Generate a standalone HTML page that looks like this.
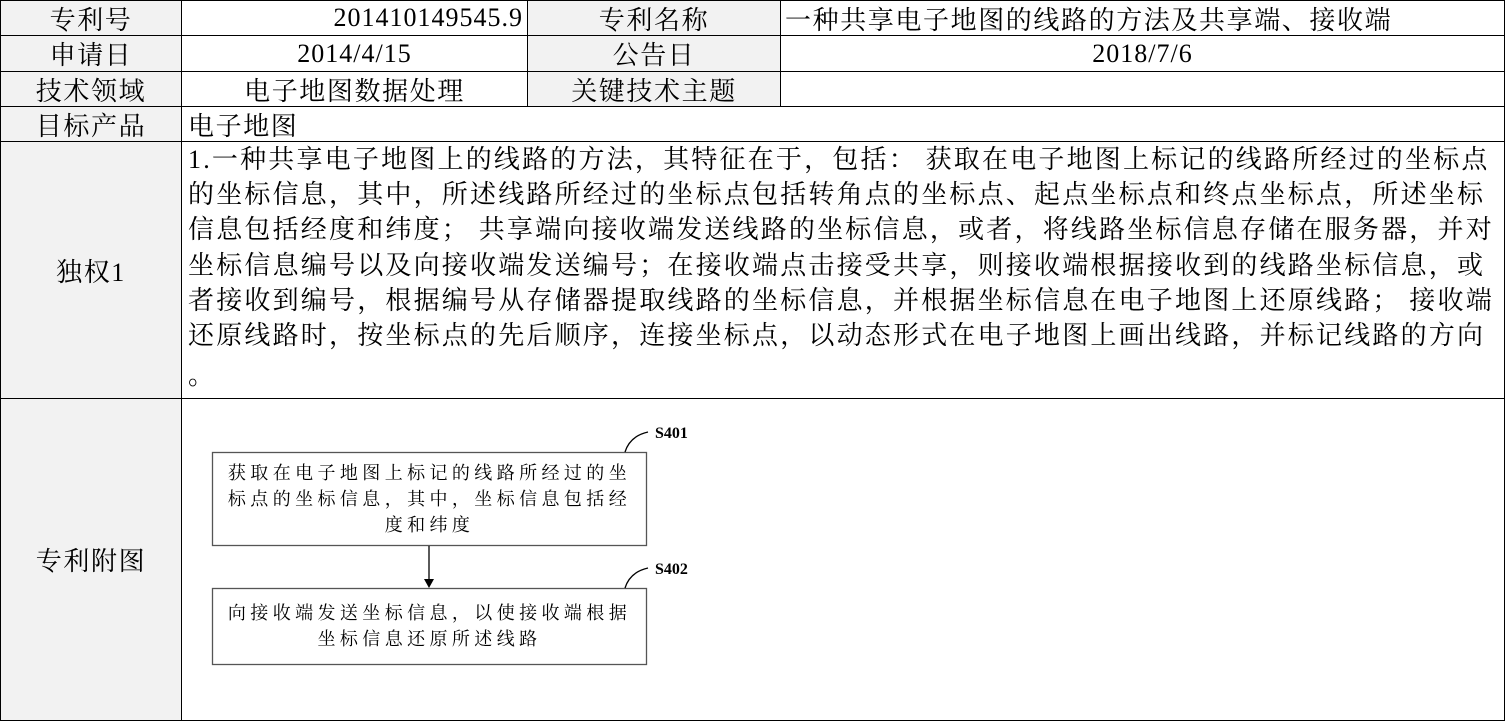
<!DOCTYPE html>
<html><head><meta charset="utf-8"><style>
body{margin:0;width:1505px;height:721px;background:#fff;position:relative;overflow:hidden;font-family:"Liberation Serif","Noto Serif CJK SC",serif;color:#000}
.c{position:absolute;box-sizing:border-box;border:1px solid #000;display:flex;align-items:center;justify-content:center;font-size:26px;letter-spacing:1.6px;white-space:nowrap}
.g{background:#f2f2f2}
.l{justify-content:flex-start;padding-left:6px}
.r{justify-content:flex-end;padding-right:4px}
.m{font-size:26px;letter-spacing:1px}
.t{position:absolute;left:188px;font-size:26px;letter-spacing:2.2px;white-space:nowrap;line-height:26px}
.b{position:absolute;font-size:18px;letter-spacing:4.4px;white-space:nowrap;text-align:center;line-height:26px}
</style></head><body>
<div class="c g" style="left:0;top:0;width:182px;height:36px">专利号</div>
<div class="c r m" style="left:181px;top:0;width:347px;height:36px">201410149545.9</div>
<div class="c g" style="left:527px;top:0;width:254px;height:36px">专利名称</div>
<div class="c l" style="left:780px;top:0;width:725px;height:36px;padding-left:4px">一种共享电子地图的线路的方法及共享端、接收端</div>
<div class="c g" style="left:0;top:35px;width:182px;height:37px">申请日</div>
<div class="c m" style="left:181px;top:35px;width:347px;height:37px">2014/4/15</div>
<div class="c g" style="left:527px;top:35px;width:254px;height:37px">公告日</div>
<div class="c m" style="left:780px;top:35px;width:725px;height:37px">2018/7/6</div>
<div class="c g" style="left:0;top:71px;width:182px;height:36px">技术领域</div>
<div class="c" style="left:181px;top:71px;width:347px;height:36px">电子地图数据处理</div>
<div class="c g" style="left:527px;top:71px;width:254px;height:36px">关键技术主题</div>
<div class="c" style="left:780px;top:71px;width:725px;height:36px"></div>
<div class="c g" style="left:0;top:106px;width:182px;height:36px">目标产品</div>
<div class="c l" style="left:181px;top:106px;width:1324px;height:36px">电子地图</div>
<div class="c g" style="left:0;top:141px;width:182px;height:258px">独权1</div>
<div class="c" style="left:181px;top:141px;width:1324px;height:258px"></div>
<div class="c g" style="left:0;top:398px;width:182px;height:323px">专利附图</div>
<div class="c" style="left:181px;top:398px;width:1324px;height:323px"></div>

<div class="t" style="top:147px">1.一种共享电子地图上的线路的方法，其特征在于，包括： 获取在电子地图上标记的线路所经过的坐标点</div>
<div class="t" style="top:182px">的坐标信息，其中，所述线路所经过的坐标点包括转角点的坐标点、起点坐标点和终点坐标点，所述坐标</div>
<div class="t" style="top:217px">信息包括经度和纬度； 共享端向接收端发送线路的坐标信息，或者，将线路坐标信息存储在服务器，并对</div>
<div class="t" style="top:253px">坐标信息编号以及向接收端发送编号；在接收端点击接受共享，则接收端根据接收到的线路坐标信息，或</div>
<div class="t" style="top:288px">者接收到编号，根据编号从存储器提取线路的坐标信息，并根据坐标信息在电子地图上还原线路； 接收端</div>
<div class="t" style="top:323px">还原线路时，按坐标点的先后顺序，连接坐标点，以动态形式在电子地图上画出线路，并标记线路的方向</div>
<div class="t" style="top:363px">。</div>

<svg style="position:absolute;left:0;top:0" width="1505" height="721">
<rect x="212.5" y="452.5" width="434" height="93" fill="none" stroke="#555" stroke-width="1.3"/>
<rect x="212.5" y="588.5" width="434" height="76" fill="none" stroke="#555" stroke-width="1.3"/>
<line x1="429" y1="546" x2="429" y2="580" stroke="#000" stroke-width="1.3"/>
<polygon points="424,579 434,579 429,588" fill="#000"/>
<path d="M625 452 Q630 436 648 432" fill="none" stroke="#000" stroke-width="1.3"/>
<path d="M625 588 Q630 572 648 568" fill="none" stroke="#000" stroke-width="1.3"/>
<text x="655" y="438" font-family="Liberation Serif" font-size="16" font-weight="bold">S401</text>
<text x="655" y="574" font-family="Liberation Serif" font-size="16" font-weight="bold">S402</text>
</svg>
<div class="b" style="left:212px;width:435px;top:460px">获取在电子地图上标记的线路所经过的坐<br>标点的坐标信息，其中，坐标信息包括经<br>度和纬度</div>
<div class="b" style="left:212px;width:435px;top:600px">向接收端发送坐标信息，以使接收端根据<br>坐标信息还原所述线路</div>
</body></html>
